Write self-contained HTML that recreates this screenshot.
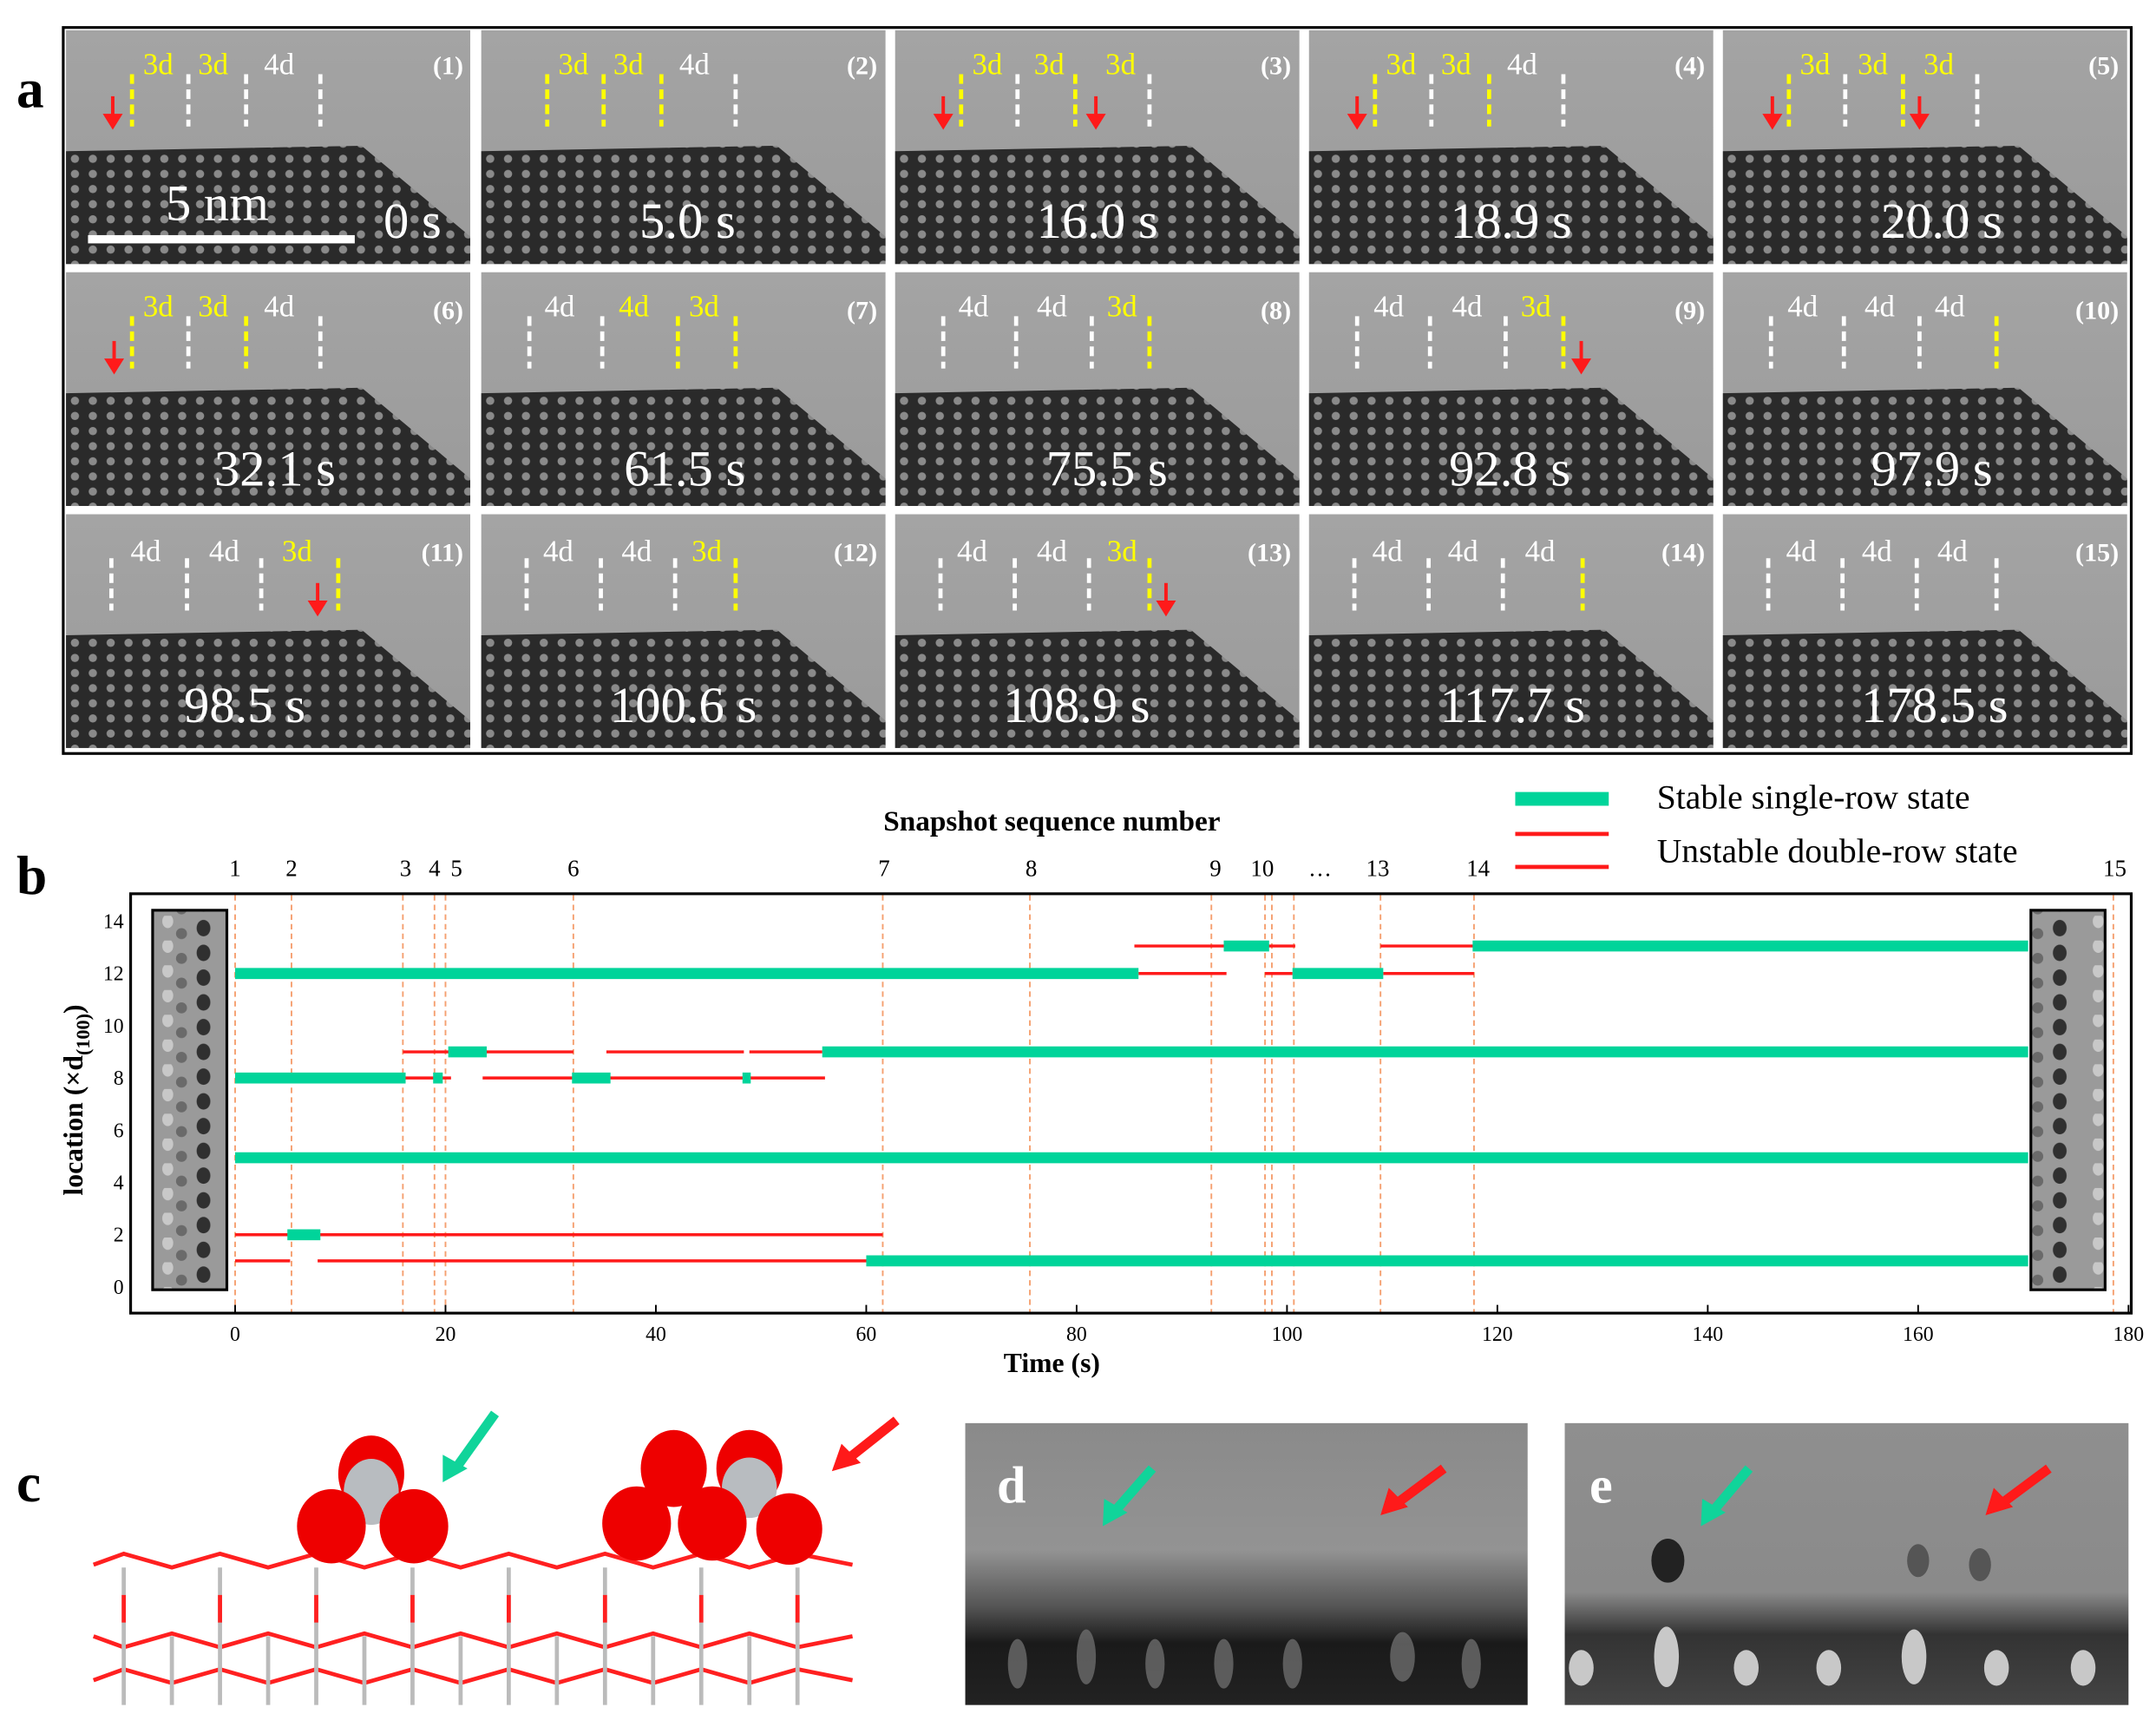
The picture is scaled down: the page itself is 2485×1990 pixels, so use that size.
<!DOCTYPE html>
<html><head><meta charset="utf-8"><style>
html,body{margin:0;padding:0;background:#fff;}
svg{display:block;}
text{font-family:"Liberation Serif",serif;}
</style></head><body>
<svg width="2485" height="1990" viewBox="0 0 1568 1256" preserveAspectRatio="none" xmlns="http://www.w3.org/2000/svg">
<defs>
<pattern id="lat" width="13" height="11" patternUnits="userSpaceOnUse">
<rect width="13" height="11" fill="#2a2a2a"/>
<circle cx="6.5" cy="5.5" r="3" fill="#8a8a8a"/>
</pattern>
<linearGradient id="bgg" x1="0" y1="0" x2="0" y2="1">
<stop offset="0" stop-color="#a4a4a4"/><stop offset="1" stop-color="#9a9a9a"/>
</linearGradient>
<g id="cell">
<rect width="294" height="170" fill="url(#bgg)"/>
<polygon points="0,88 215,84 294,150 294,170 0,170" fill="url(#lat)"/>
</g>
<pattern id="strip" width="54" height="18" patternUnits="userSpaceOnUse">
<rect width="54" height="18" fill="#9a9a9a"/>
<ellipse cx="40" cy="9" rx="5" ry="6" fill="#303030"/>
<ellipse cx="14" cy="4" rx="4" ry="5" fill="#c8c8c8"/>
<ellipse cx="24" cy="13" rx="4" ry="4" fill="#6a6a6a"/>
</pattern>
<linearGradient id="dg" x1="0" y1="0" x2="0" y2="1">
<stop offset="0" stop-color="#8a8a8a"/><stop offset="0.45" stop-color="#939393"/><stop offset="0.65" stop-color="#555"/><stop offset="0.78" stop-color="#1a1a1a"/><stop offset="1" stop-color="#222"/>
</linearGradient>
<linearGradient id="eg" x1="0" y1="0" x2="0" y2="1">
<stop offset="0" stop-color="#8f8f8f"/><stop offset="0.6" stop-color="#8a8a8a"/><stop offset="0.75" stop-color="#333"/><stop offset="1" stop-color="#444"/>
</linearGradient>
</defs>

<!-- Panel a -->
<text x="12" y="78" font-size="40" font-weight="bold">a</text>
<rect x="45" y="19" width="1506" height="530" fill="#000"/>
<rect x="47" y="21" width="1502" height="526" fill="#fff"/>
<use href="#cell" x="48" y="22"/><use href="#cell" x="350" y="22"/><use href="#cell" x="651" y="22"/><use href="#cell" x="952" y="22"/><use href="#cell" x="1253" y="22"/>
<use href="#cell" x="48" y="198"/><use href="#cell" x="350" y="198"/><use href="#cell" x="651" y="198"/><use href="#cell" x="952" y="198"/><use href="#cell" x="1253" y="198"/>
<use href="#cell" x="48" y="374"/><use href="#cell" x="350" y="374"/><use href="#cell" x="651" y="374"/><use href="#cell" x="952" y="374"/><use href="#cell" x="1253" y="374"/>

<g stroke-width="3" stroke-dasharray="7,4" fill="none">
<path d="M96 54V92" stroke="#ff0"/><path d="M137 54V92" stroke="#fff"/><path d="M179 54V92" stroke="#fff"/><path d="M233 54V92" stroke="#fff"/>
<path d="M398 54V92" stroke="#ff0"/><path d="M439 54V92" stroke="#ff0"/><path d="M481 54V92" stroke="#ff0"/><path d="M535 54V92" stroke="#fff"/>
<path d="M699 54V92" stroke="#ff0"/><path d="M740 54V92" stroke="#fff"/><path d="M782 54V92" stroke="#ff0"/><path d="M836 54V92" stroke="#fff"/>
<path d="M1000 54V92" stroke="#ff0"/><path d="M1041 54V92" stroke="#fff"/><path d="M1083 54V92" stroke="#ff0"/><path d="M1137 54V92" stroke="#fff"/>
<path d="M1301 54V92" stroke="#ff0"/><path d="M1342 54V92" stroke="#fff"/><path d="M1384 54V92" stroke="#ff0"/><path d="M1438 54V92" stroke="#fff"/>
<path d="M96 230V268" stroke="#ff0"/><path d="M137 230V268" stroke="#fff"/><path d="M179 230V268" stroke="#ff0"/><path d="M233 230V268" stroke="#fff"/>
<path d="M385 230V268" stroke="#fff"/><path d="M438 230V268" stroke="#fff"/><path d="M493 230V268" stroke="#ff0"/><path d="M535 230V268" stroke="#ff0"/>
<path d="M686 230V268" stroke="#fff"/><path d="M739 230V268" stroke="#fff"/><path d="M794 230V268" stroke="#fff"/><path d="M836 230V268" stroke="#ff0"/>
<path d="M987 230V268" stroke="#fff"/><path d="M1040 230V268" stroke="#fff"/><path d="M1095 230V268" stroke="#fff"/><path d="M1137 230V268" stroke="#ff0"/>
<path d="M1288 230V268" stroke="#fff"/><path d="M1341 230V268" stroke="#fff"/><path d="M1396 230V268" stroke="#fff"/><path d="M1452 230V268" stroke="#ff0"/>
<path d="M81 406V444" stroke="#fff"/><path d="M136 406V444" stroke="#fff"/><path d="M190 406V444" stroke="#fff"/><path d="M246 406V444" stroke="#ff0"/>
<path d="M383 406V444" stroke="#fff"/><path d="M437 406V444" stroke="#fff"/><path d="M491 406V444" stroke="#fff"/><path d="M535 406V444" stroke="#ff0"/>
<path d="M684 406V444" stroke="#fff"/><path d="M738 406V444" stroke="#fff"/><path d="M792 406V444" stroke="#fff"/><path d="M836 406V444" stroke="#ff0"/>
<path d="M985 406V444" stroke="#fff"/><path d="M1039 406V444" stroke="#fff"/><path d="M1093 406V444" stroke="#fff"/><path d="M1151 406V444" stroke="#ff0"/>
<path d="M1286 406V444" stroke="#fff"/><path d="M1340 406V444" stroke="#fff"/><path d="M1394 406V444" stroke="#fff"/><path d="M1452 406V444" stroke="#fff"/>
</g>

<g font-size="22" text-anchor="middle">
<text x="115" y="54" fill="#ff0">3d</text><text x="155" y="54" fill="#ff0">3d</text><text x="203" y="54" fill="#fff">4d</text>
<text x="417" y="54" fill="#ff0">3d</text><text x="457" y="54" fill="#ff0">3d</text><text x="505" y="54" fill="#fff">4d</text>
<text x="718" y="54" fill="#ff0">3d</text><text x="763" y="54" fill="#ff0">3d</text><text x="815" y="54" fill="#ff0">3d</text>
<text x="1019" y="54" fill="#ff0">3d</text><text x="1059" y="54" fill="#ff0">3d</text><text x="1107" y="54" fill="#fff">4d</text>
<text x="1320" y="54" fill="#ff0">3d</text><text x="1362" y="54" fill="#ff0">3d</text><text x="1410" y="54" fill="#ff0">3d</text>
<text x="115" y="230" fill="#ff0">3d</text><text x="155" y="230" fill="#ff0">3d</text><text x="203" y="230" fill="#fff">4d</text>
<text x="407" y="230" fill="#fff">4d</text><text x="461" y="230" fill="#ff0">4d</text><text x="512" y="230" fill="#ff0">3d</text>
<text x="708" y="230" fill="#fff">4d</text><text x="765" y="230" fill="#fff">4d</text><text x="816" y="230" fill="#ff0">3d</text>
<text x="1010" y="230" fill="#fff">4d</text><text x="1067" y="230" fill="#fff">4d</text><text x="1117" y="230" fill="#ff0">3d</text>
<text x="1311" y="230" fill="#fff">4d</text><text x="1367" y="230" fill="#fff">4d</text><text x="1418" y="230" fill="#fff">4d</text>
<text x="106" y="408" fill="#fff">4d</text><text x="163" y="408" fill="#fff">4d</text><text x="216" y="408" fill="#ff0">3d</text>
<text x="406" y="408" fill="#fff">4d</text><text x="463" y="408" fill="#fff">4d</text><text x="514" y="408" fill="#ff0">3d</text>
<text x="707" y="408" fill="#fff">4d</text><text x="765" y="408" fill="#fff">4d</text><text x="816" y="408" fill="#ff0">3d</text>
<text x="1009" y="408" fill="#fff">4d</text><text x="1064" y="408" fill="#fff">4d</text><text x="1120" y="408" fill="#fff">4d</text>
<text x="1310" y="408" fill="#fff">4d</text><text x="1365" y="408" fill="#fff">4d</text><text x="1420" y="408" fill="#fff">4d</text>
</g>
<g font-size="19" font-weight="bold" fill="#fff" text-anchor="end">
<text x="337" y="54">(1)</text><text x="638" y="54">(2)</text><text x="939" y="54">(3)</text><text x="1240" y="54">(4)</text><text x="1541" y="54">(5)</text>
<text x="337" y="232">(6)</text><text x="638" y="232">(7)</text><text x="939" y="232">(8)</text><text x="1240" y="232">(9)</text><text x="1541" y="232">(10)</text>
<text x="337" y="408">(11)</text><text x="638" y="408">(12)</text><text x="939" y="408">(13)</text><text x="1240" y="408">(14)</text><text x="1541" y="408">(15)</text>
</g>
<g font-size="37" fill="#fff" text-anchor="middle">
<text x="300" y="173">0 s</text><text x="500" y="173">5.0 s</text><text x="798" y="173">16.0 s</text><text x="1099" y="173">18.9 s</text><text x="1412" y="173">20.0 s</text>
<text x="200" y="353">32.1 s</text><text x="498" y="353">61.5 s</text><text x="805" y="353">75.5 s</text><text x="1098" y="353">92.8 s</text><text x="1405" y="353">97.9 s</text>
<text x="178" y="525">98.5 s</text><text x="497" y="525">100.6 s</text><text x="783" y="525">108.9 s</text><text x="1100" y="525">117.7 s</text><text x="1407" y="525">178.5 s</text>
<text x="158" y="160">5 nm</text>
</g>
<rect x="64" y="171" width="194" height="6" fill="#fff"/>
<g fill="#ff1a1a" stroke="#ff1a1a" stroke-width="2.5">
<path d="M82 70V86"/><path d="M77 84L82 92L87 84Z"/>
<path d="M686 70V86"/><path d="M681 84L686 92L691 84Z"/>
<path d="M797 70V86"/><path d="M792 84L797 92L802 84Z"/>
<path d="M987 70V86"/><path d="M982 84L987 92L992 84Z"/>
<path d="M1289 70V86"/><path d="M1284 84L1289 92L1294 84Z"/>
<path d="M1396 70V86"/><path d="M1391 84L1396 92L1401 84Z"/>
<path d="M83 248V264"/><path d="M78 262L83 270L88 262Z"/>
<path d="M1150 248V264"/><path d="M1145 262L1150 270L1155 262Z"/>
<path d="M231 424V440"/><path d="M226 438L231 446L236 438Z"/>
<path d="M848 424V440"/><path d="M843 438L848 446L853 438Z"/>
</g>

<!-- Panel b -->
<text x="12" y="650" font-size="40" font-weight="bold">b</text>
<text x="765" y="604" font-size="21" font-weight="bold" text-anchor="middle">Snapshot sequence number</text>
<rect x="1102" y="576" width="68" height="10" fill="#00d49a"/>
<rect x="1102" y="605" width="68" height="3" fill="#ff1a1a"/>
<rect x="1102" y="629" width="68" height="3" fill="#ff1a1a"/>
<text x="1205" y="588" font-size="25">Stable single-row state</text>
<text x="1205" y="627" font-size="25">Unstable double-row state</text>
<g font-size="17" text-anchor="middle">
<text x="171" y="637">1</text><text x="212" y="637">2</text><text x="295" y="637">3</text><text x="316" y="637">4</text><text x="332" y="637">5</text><text x="417" y="637">6</text><text x="643" y="637">7</text><text x="750" y="637">8</text><text x="884" y="637">9</text><text x="918" y="637">10</text><text x="960" y="637">…</text><text x="1002" y="637">13</text><text x="1075" y="637">14</text><text x="1538" y="637">15</text>
</g>
<rect x="95" y="650" width="1455" height="305" fill="none" stroke="#000" stroke-width="2"/>
<rect x="111" y="662" width="54" height="276" fill="url(#strip)" stroke="#000" stroke-width="2"/>
<rect x="1477" y="662" width="54" height="276" fill="url(#strip)" stroke="#000" stroke-width="2"/>
<g stroke="#f5a070" stroke-width="1.2" stroke-dasharray="4,3">
<path d="M171 651V954M212 651V954M293 651V954M316 651V954M324 651V954M417 651V954M642 651V954M749 651V954M881 651V954M920 651V954M925 651V954M941 651V954M1004 651V954M1072 651V954M1537 651V954"/>
</g>
<g stroke="#ff1a1a" stroke-width="2.2">
<path d="M825 688H892M920 688H942M1004 688H1072"/>
<path d="M828 708H892M920 708H940M1006 708H1072"/>
<path d="M293 765H328M354 765H417M441 765H541M545 765H598"/>
<path d="M293 784H328M351 784H417M443 784H600"/>
<path d="M171 898H642"/>
<path d="M171 917H211M231 917H632"/>
</g>
<g stroke="#00d49a" stroke-width="8">
<path d="M171 708H828"/>
<path d="M890 688H923M1071 688H1475"/>
<path d="M940 708H1006"/>
<path d="M326 765H354M598 765H1475"/>
<path d="M171 784H295M315 784H322M416 784H444M540 784H546"/>
<path d="M171 842H1475"/>
<path d="M209 898H233"/>
<path d="M630 917H1475"/>
</g>
<g font-size="15" text-anchor="middle">
<text x="171" y="975">0</text><text x="324" y="975">20</text><text x="477" y="975">40</text><text x="630" y="975">60</text><text x="783" y="975">80</text><text x="936" y="975">100</text><text x="1089" y="975">120</text><text x="1242" y="975">140</text><text x="1395" y="975">160</text><text x="1548" y="975">180</text>
</g>
<g stroke="#000" stroke-width="1.2">
<path d="M171 955V949M324 955V949M477 955V949M630 955V949M783 955V949M936 955V949M1089 955V949M1242 955V949M1395 955V949M1548 955V949"/>
</g>
<g font-size="15" text-anchor="end">
<text x="90" y="941">0</text><text x="90" y="903">2</text><text x="90" y="865">4</text><text x="90" y="827">6</text><text x="90" y="789">8</text><text x="90" y="751">10</text><text x="90" y="713">12</text><text x="90" y="675">14</text>
</g>
<text x="765" y="998" font-size="20" font-weight="bold" text-anchor="middle">Time (s)</text>
<text transform="translate(60,800) rotate(-90)" font-size="20" font-weight="bold" text-anchor="middle">location (×d<tspan font-size="14" dy="5">(100)</tspan><tspan dy="-5">)</tspan></text>

<!-- Panel c -->
<text x="12" y="1092" font-size="40" font-weight="bold">c</text>
<g stroke-width="3">
<path d="M68 1138L90 1130L125 1140L160 1130L195 1140L230 1130L265 1140L300 1130L335 1140L370 1130L405 1140L440 1130L475 1140L510 1130L545 1140L580 1130L620 1138" stroke="#ff2020" fill="none"/>
<path d="M68 1190L90 1198L125 1188L160 1198L195 1188L230 1198L265 1188L300 1198L335 1188L370 1198L405 1188L440 1198L475 1188L510 1198L545 1188L580 1198L620 1190" stroke="#ff2020" fill="none"/>
<path d="M68 1222L90 1214L125 1224L160 1214L195 1224L230 1214L265 1224L300 1214L335 1224L370 1214L405 1224L440 1214L475 1224L510 1214L545 1224L580 1214L620 1222" stroke="#ff2020" fill="none"/>
<path d="M90 1140V1240M160 1140V1240M230 1140V1240M300 1140V1240M370 1140V1240M440 1140V1240M510 1140V1240M580 1140V1240M125 1190V1240M195 1190V1240M265 1190V1240M335 1190V1240M405 1190V1240M475 1190V1240M545 1190V1240" stroke="#bbb"/>
<path d="M90 1160V1180M160 1160V1180M230 1160V1180M300 1160V1180M370 1160V1180M440 1160V1180M510 1160V1180M580 1160V1180" stroke="#ff2020"/>
</g>
<g>
<ellipse cx="270" cy="1072" rx="24" ry="28" fill="#e00"/>
<ellipse cx="270" cy="1085" rx="20" ry="24" fill="#b8bcc0"/>
<ellipse cx="241" cy="1110" rx="25" ry="27" fill="#e00"/>
<ellipse cx="301" cy="1110" rx="25" ry="27" fill="#e00"/>
<ellipse cx="490" cy="1068" rx="24" ry="28" fill="#e00"/>
<ellipse cx="545" cy="1068" rx="24" ry="28" fill="#e00"/>
<ellipse cx="545" cy="1082" rx="20" ry="22" fill="#b8bcc0"/>
<ellipse cx="463" cy="1108" rx="25" ry="27" fill="#e00"/>
<ellipse cx="518" cy="1108" rx="25" ry="27" fill="#e00"/>
<ellipse cx="574" cy="1112" rx="24" ry="26" fill="#e00"/>
</g>
<path d="M360 1028L330 1070" stroke="#10d49a" stroke-width="7"/><path d="M322 1078L322 1058L340 1068Z" fill="#10d49a"/>
<path d="M652 1033L618 1060" stroke="#ff1a1a" stroke-width="7"/><path d="M605 1070L612 1050L626 1064Z" fill="#ff1a1a"/>

<!-- Panel d -->
<rect x="702" y="1035" width="409" height="205" fill="url(#dg)"/>
<g fill="#777" opacity="0.7">
<ellipse cx="740" cy="1210" rx="7" ry="18"/><ellipse cx="790" cy="1205" rx="7" ry="20"/><ellipse cx="840" cy="1210" rx="7" ry="18"/><ellipse cx="890" cy="1210" rx="7" ry="18"/><ellipse cx="940" cy="1210" rx="7" ry="18"/><ellipse cx="1020" cy="1205" rx="9" ry="18"/><ellipse cx="1070" cy="1210" rx="7" ry="18"/>
</g>
<text x="725" y="1093" font-size="38" font-weight="bold" fill="#fff">d</text>
<path d="M838 1068L810 1100" stroke="#10d49a" stroke-width="7"/><path d="M802 1110L803 1090L820 1100Z" fill="#10d49a"/>
<path d="M1050 1068L1015 1094" stroke="#ff1a1a" stroke-width="7"/><path d="M1004 1102L1010 1082L1024 1096Z" fill="#ff1a1a"/>

<!-- Panel e -->
<rect x="1138" y="1035" width="410" height="205" fill="url(#eg)"/>
<g fill="#c8c8c8">
<ellipse cx="1150" cy="1213" rx="9" ry="13"/><ellipse cx="1212" cy="1205" rx="9" ry="22"/><ellipse cx="1270" cy="1213" rx="9" ry="13"/><ellipse cx="1330" cy="1213" rx="9" ry="13"/><ellipse cx="1392" cy="1205" rx="9" ry="20"/><ellipse cx="1452" cy="1213" rx="9" ry="13"/><ellipse cx="1515" cy="1213" rx="9" ry="13"/>
</g>
<ellipse cx="1213" cy="1135" rx="12" ry="16" fill="#222"/>
<ellipse cx="1395" cy="1135" rx="8" ry="12" fill="#555"/><ellipse cx="1440" cy="1138" rx="8" ry="12" fill="#555"/>
<text x="1156" y="1093" font-size="38" font-weight="bold" fill="#fff">e</text>
<path d="M1272 1068L1245 1100" stroke="#10d49a" stroke-width="7"/><path d="M1237 1110L1238 1090L1255 1100Z" fill="#10d49a"/>
<path d="M1490 1068L1455 1094" stroke="#ff1a1a" stroke-width="7"/><path d="M1444 1102L1450 1082L1464 1096Z" fill="#ff1a1a"/>
</svg>
</body></html>
